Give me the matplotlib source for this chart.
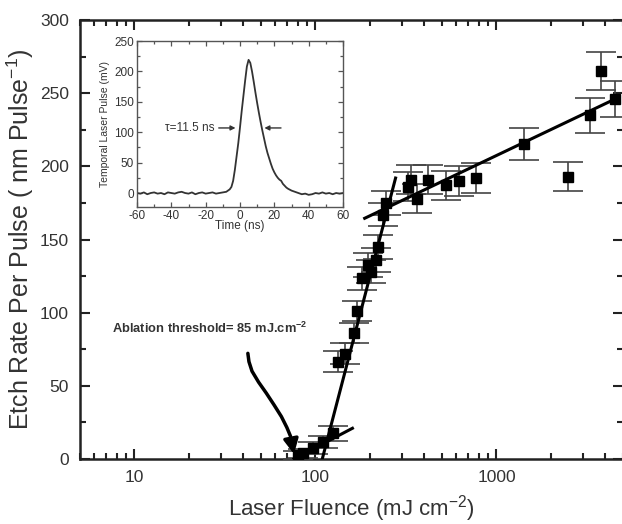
import matplotlib as mpl
mpl.use('Agg')
import numpy as np
import matplotlib.pyplot as plt
import matplotlib.ticker as mticker

plt.rcParams['font.family'] = ['Liberation Sans', 'DejaVu Sans']
plt.rcParams['mathtext.default'] = 'regular'
plt.rcParams['axes.unicode_minus'] = False

## etch rate data
fluence = [80, 85, 97, 110, 125, 133, 145, 163, 170, 181, 195, 203, 216, 221, 236, 245,
           324, 335, 363, 421, 527, 617, 769, 1416, 2489, 3266, 3767, 4509]
etch = [2.7, 3.9, 7.3, 11.8, 17.5, 66.5, 72, 86, 101, 123.5, 132.6, 128, 136, 145, 167, 175,
        186, 191, 178, 191, 187, 190, 192, 215, 193, 235, 265, 246]
etch_err = [3, 3, 4, 4, 5, 7, 7, 7, 7, 8, 8, 8, 8, 8, 8, 8,
            10, 10, 10, 10, 10, 10, 10, 11, 10, 12, 13, 12]

## fitted lines (end points)
fit_low_F, fit_low_E = [76, 160], [0, 21]
fit_steep_F, fit_steep_E = [109, 277], [0, 192]
fit_high_F, fit_high_E = [187, 4700], [164.5, 247]

## hand drawn arrow
arrow_F = [42.3, 42.9, 44.6, 48.5, 53.5, 59.0, 64.8, 69.5, 72.8]
arrow_E = [72.2, 66.5, 60.0, 52.5, 45.0, 37.0, 29.0, 21.5, 15.5]
arrow_tip = (76.6, 1.5)

## inset: temporal laser pulse
pulse_t = [-60, -58, -56, -54, -52, -50, -48, -46, -44, -42, -40, -38, -36, -34, -32, -30,
           -28, -26, -24, -22, -20, -18, -16, -14, -12, -10, -8, -6, -5, -4, -3, -2, -1,
           0, 1, 2, 3, 4, 5, 6, 7, 8, 9, 10, 11, 12, 13, 14, 15, 16, 17, 18, 19, 20,
           21, 22, 23, 24, 25, 26, 27, 28, 30, 32, 34, 36, 38, 40, 42, 44, 46, 48, 50,
           52, 54, 56, 58, 60]
pulse_v = [0, -1, 1, -2, 0, 1, -1, 0, -2, 1, 0, -1, 1, 2, 0, -1,
           1, -2, 0, 1, -1, 0, 1, -1, 0, 1, 2, 6, 10, 20, 38, 60, 82,
           108, 135, 160, 185, 208, 219, 214, 200, 183, 165, 148, 132, 117, 103, 90, 77, 66, 57, 48, 40, 34,
           29, 25, 22, 20, 15, 12, 9, 7, 4, 2, 0, -2, -1, -3, -2, 0, -1, 1, -1,
           0, -2, 0, -1, 0]

TXT = '#333333'

fig = plt.figure(figsize=(6.22, 5.24), dpi=100)
ax = fig.add_axes([80/622, 65/524, 543/622, 439/524])

ax.errorbar(fluence, etch, yerr=etch_err, fmt='s', color='black', ms=6.5,
            ecolor='#444444', elinewidth=1.2, capsize=11, capthick=1.2, zorder=3)
ax.plot(fit_low_F, fit_low_E, color='black', lw=2.2, zorder=4)
ax.plot(fit_steep_F, fit_steep_E, color='black', lw=2.2, zorder=4)
ax.plot(fit_high_F, fit_high_E, color='black', lw=2.2, zorder=4)

ax.plot(arrow_F, arrow_E, color='black', lw=2.5, solid_capstyle='round',
        solid_joinstyle='round')
ax.annotate('', xy=arrow_tip, xytext=(arrow_F[-1], arrow_E[-1]),
            arrowprops=dict(arrowstyle='-|>', color='black', lw=2.5, mutation_scale=22))
ax.text(7.55, 89, 'Ablation threshold= 85 mJ.cm$^{-2}$', fontsize=9.3, fontweight='bold',
        color=TXT, va='center', ha='left')

ax.set_xscale('log')
ax.set_xlim(5, 5000)
ax.set_ylim(0, 300)
ax.xaxis.set_major_locator(mticker.FixedLocator([10, 100, 1000]))
ax.xaxis.set_major_formatter(mticker.FixedFormatter(['10', '100', '1000']))
ax.xaxis.set_minor_locator(mticker.LogLocator(base=10, subs=np.arange(2, 10)))
ax.xaxis.set_minor_formatter(mticker.NullFormatter())
ax.yaxis.set_major_locator(mticker.MultipleLocator(50))
ax.yaxis.set_minor_locator(mticker.MultipleLocator(25))
ax.tick_params(which='both', direction='in', top=True, right=True, colors='#222222',
               labelcolor=TXT, labelsize=12.5, width=1.5)
ax.tick_params(which='major', length=7, pad=8)
ax.tick_params(which='minor', length=4)
for s in ax.spines.values():
    s.set_linewidth(1.8)
    s.set_color('#222222')

ax.set_xlabel('Laser Fluence (mJ cm$^{-2}$)', fontsize=16, color=TXT, labelpad=6)
ax.set_ylabel('Etch Rate Per Pulse ( nm Pulse$^{-1}$)', fontsize=18, color=TXT, labelpad=3)

# inset
ins = fig.add_axes([137/622, 317/524, 206/622, 166/524])
ins.plot(pulse_t, pulse_v, color='#333333', lw=1.3)
ins.set_xlim(-60, 60)
ins.set_ylim(-23, 250)
ins.xaxis.set_major_locator(mticker.MultipleLocator(20))
ins.xaxis.set_minor_locator(mticker.MultipleLocator(10))
ins.yaxis.set_major_locator(mticker.MultipleLocator(50))
ins.yaxis.set_minor_locator(mticker.MultipleLocator(25))
ins.tick_params(which='both', direction='in', top=True, right=True, colors='#555555',
                labelcolor=TXT, labelsize=8.5, width=0.9, pad=2)
ins.tick_params(which='major', length=3.5)
ins.tick_params(which='minor', length=2)
for s in ins.spines.values():
    s.set_linewidth(1.0)
    s.set_color('#555555')
ins.set_xlabel('Time (ns)', fontsize=8.5, color=TXT, labelpad=-1)
ins.set_ylabel('Temporal Laser Pulse (mV)', fontsize=7.5, color=TXT, labelpad=3)

ins.annotate('', xy=(-1, 107), xytext=(-14, 107),
             arrowprops=dict(arrowstyle='-|>', color='#333333', lw=1.0, mutation_scale=7))
ins.annotate('', xy=(12.6, 107), xytext=(25.5, 107),
             arrowprops=dict(arrowstyle='-|>', color='#333333', lw=1.0, mutation_scale=7))
ins.text(-14.6, 107, '\u03c4=11.5 ns', fontsize=8.5, color=TXT, ha='right', va='center')

plt.savefig('out.png', dpi=100)
plt.close()
